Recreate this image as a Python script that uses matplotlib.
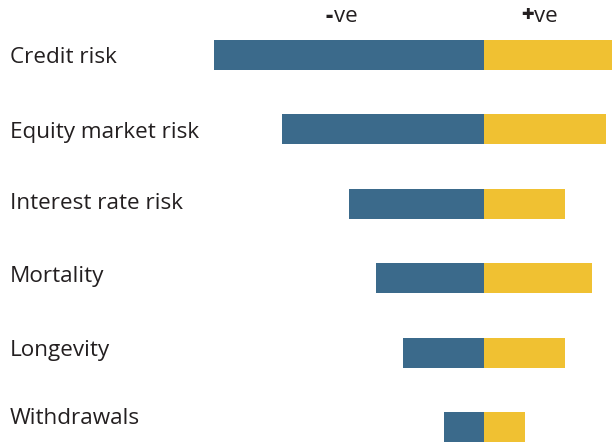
import matplotlib
matplotlib.use("Agg")
import matplotlib.pyplot as plt

categories = ["Credit risk", "Equity market risk", "Interest rate risk",
              "Mortality", "Longevity", "Withdrawals"]
negative = [-10.0, -7.5, -5.0, -4.0, -3.0, -1.5]
positive = [5.0, 4.5, 3.0, 4.0, 3.0, 1.5]
headers = [("-", "ve"), ("+", "ve")]

BLUE = "#3b6a8b"
YELLOW = "#f0c132"
TXT = "#231f20"
FONT = ["Open Sans", "DejaVu Sans"]

W, H = 612, 444
fig = plt.figure(figsize=(W / 100, H / 100), dpi=100)

# axes spans from x=214px to the right edge; full height
ax = fig.add_axes([214 / W, 0, 1 - 214 / W, 1])
ax.set_xlim(-10, 128 / 27)
# bar centres at 55px + 74.4px * i from top
ax.set_ylim(389 / 74.4, -55 / 74.4)
ypos = list(range(len(categories)))
ax.barh(ypos, negative, height=0.403, color=BLUE, linewidth=0)
ax.barh(ypos, positive, height=0.403, color=YELLOW, linewidth=0)
ax.axis("off")

# category labels (baselines in pixels from top)
label_baselines = [63, 138, 209, 282, 356, 424]
for lab, yb in zip(categories, label_baselines):
    fig.text(10 / W, 1 - yb / H, lab, fontsize=16.2, family=FONT, color=TXT,
             va="baseline", ha="left")

# header texts
header_x = [326, 521]
fig.canvas.draw()
r = fig.canvas.get_renderer()
for (sym, rest), hx in zip(headers, header_x):
    t = fig.text(hx / W, 1 - 22 / H, sym, fontsize=16, family=FONT,
                 fontweight="heavy", color=TXT, va="baseline", ha="left")
    bb = t.get_window_extent(renderer=r)
    fig.text(bb.x1 / W + 1 / W, 1 - 22 / H, rest, fontsize=16, family=FONT,
             color=TXT, va="baseline", ha="left")

fig.savefig("out.png", dpi=100)
